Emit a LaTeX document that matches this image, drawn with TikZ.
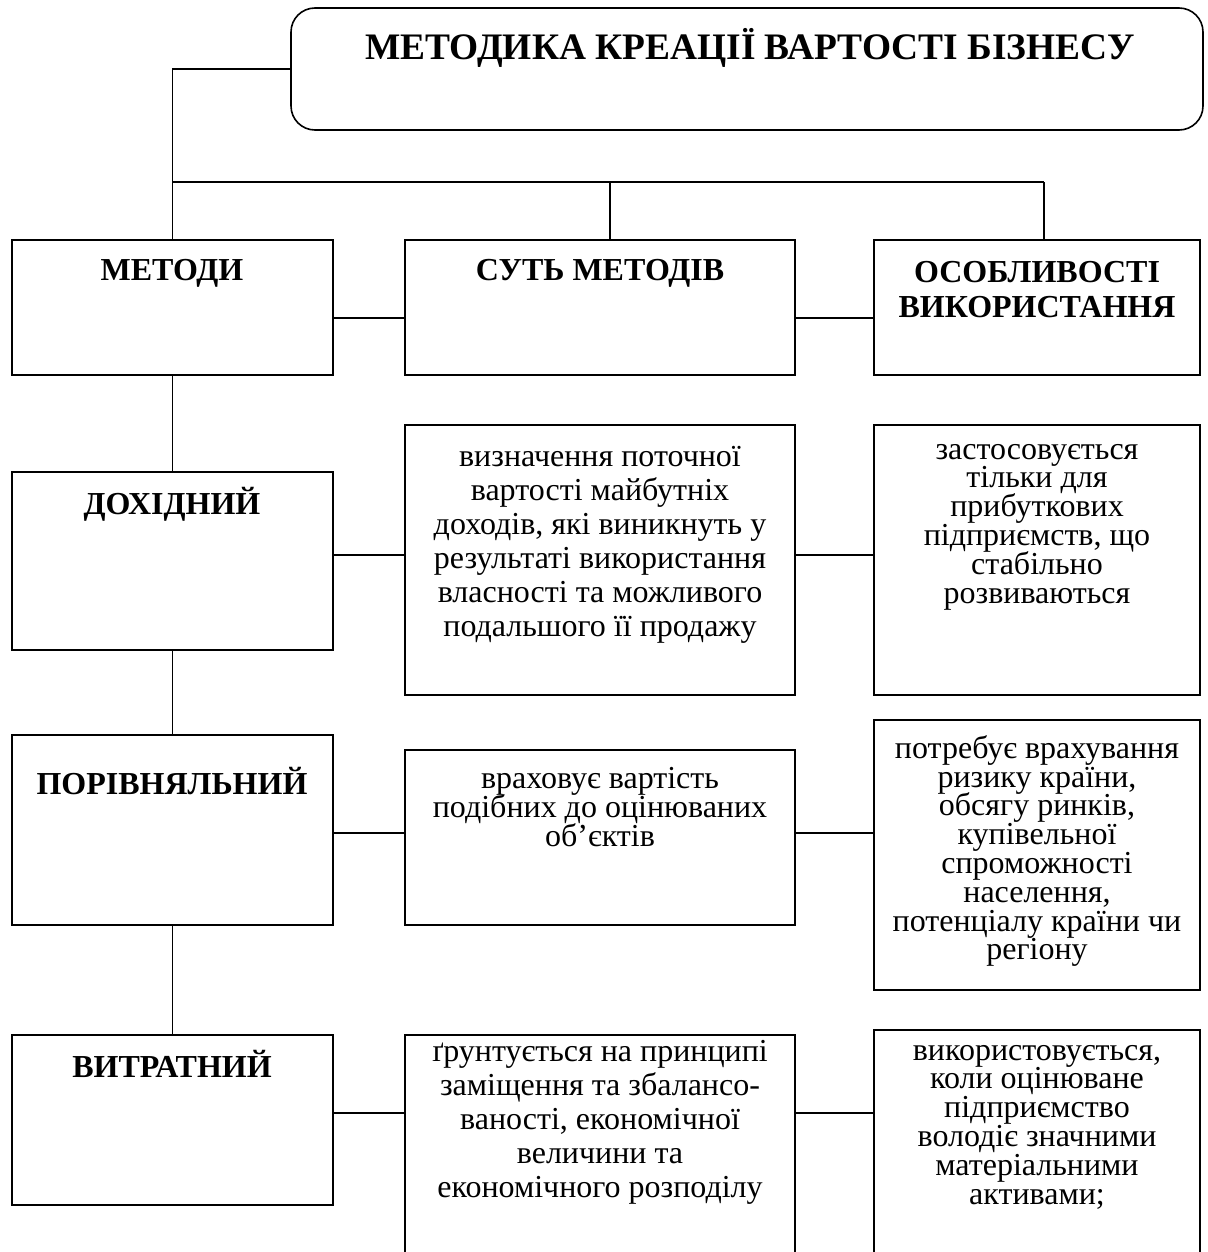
\documentclass[tikz,border=0pt]{standalone}
\usepackage{fontspec}
\setmainfont{Liberation Serif}
\usetikzlibrary{fit}
\newcommand{\ExactLines}{\lineskiplimit=-100pt\relax}
\tikzset{
  frame/.style={draw, line width=0.8pt, inner sep=0pt},
  head/.style={font=\fontsize{16}{17.5}\selectfont\bfseries, align=center, inner sep=0pt},
  body/.style={font={\fontsize{16}{17}\selectfont\ExactLines}, align=center, inner sep=0pt},
  tight/.style={font={\fontsize{16}{14.4}\selectfont\ExactLines}, align=center, inner sep=0pt},
}
\newcommand{\DrawFrame}[5]{\node[frame, fit={(#2,#3) (#4,#5)}] (#1) {};}

\begin{document}
\begin{tikzpicture}[x=0.5pt,y=-0.5pt,line width=0.8pt]
\useasboundingbox (0,0) rectangle (1208,1252);
\clip (0,0) rectangle (1208,1252);
% title
\node[frame, rounded corners=12pt, fit={(291,8) (1203,130)}] (title) {};
\node[head, font=\fontsize{18.7}{21}\selectfont\bfseries] (ttl) at (750,48) {МЕТОДИКА КРЕАЦІЇ ВАРТОСТІ БІЗНЕСУ};
% frames
\DrawFrame{m1}{12}{240}{333}{375}
\DrawFrame{s1}{405}{240}{795}{375}
\DrawFrame{o1}{874}{240}{1200}{375}
\DrawFrame{m2}{12}{472}{333}{650}
\DrawFrame{s2}{405}{425}{795}{695}
\DrawFrame{o2}{874}{425}{1200}{695}
\DrawFrame{m3}{12}{735}{333}{925}
\DrawFrame{s3}{405}{750}{795}{925}
\DrawFrame{o3}{874}{720}{1200}{990}
\DrawFrame{m4}{12}{1035}{333}{1205}
\DrawFrame{s4}{405}{1035}{795}{1280}
\DrawFrame{o4}{874}{1030}{1200}{1280}
% texts
\node[head] (h1) at (172,273) {МЕТОДИ};
\node[head] (h2) at (600,273) {СУТЬ МЕТОДІВ};
\node[head] (h3) at (1037,290) {ОСОБЛИВОСТІ\\ВИКОРИСТАННЯ};
\node[head] (h4) at (172,504) {ДОХІДНИЙ};
\node[head] (h5) at (172,781) {ПОРІВНЯЛЬНИЙ};
\node[head] (h6) at (172,1064) {ВИТРАТНИЙ};
\node[body] (t2) at (600,545) {визначення поточної\\вартості майбутніх\\доходів, які виникнуть у\\результаті використання\\власності та можливого\\подальшого її продажу};
\node[tight] (u2) at (1037,527) {застосовується\\тільки для\\прибуткових\\підприємств, що\\стабільно\\розвиваються};
\node[tight] (t3) at (600,807) {враховує вартість\\подібних до оцінюваних\\об’єктів};
\node[tight] (u3) at (1037,851) {потребує врахування\\ризику країни,\\обсягу ринків,\\купівельної\\спроможності\\населення,\\потенціалу країни чи\\регіону};
\node[body] (t4) at (600,1122) {ґрунтується на принципі\\заміщення та збалансо-\\ваності, економічної\\величини та\\економічного розподілу};
\node[tight] (u4) at (1037,1127) {використовується,\\коли оцінюване\\підприємство\\володіє значними\\матеріальними\\активами;};
% connectors
\coordinate (busL) at (172,182);
\coordinate (busM) at (610,182);
\coordinate (busR) at (1044,182);
\draw (title.west) -| (m1.north);
\draw (busL) -- (busR);
\draw (busM) -- (busM |- s1.north);
\draw (busR) -- (busR |- o1.north);
\draw (m1.south) -- (m2.north);
\draw (m2.south) -- (m3.north);
\draw (m3.south) -- (m4.north);
\coordinate (r1) at (0,318);
\coordinate (r2) at (0,555);
\coordinate (r3) at (0,833);
\coordinate (r4) at (0,1113);
\foreach \i in {1,...,4}{
  \draw (m\i.east |- r\i) -- (s\i.west |- r\i);
  \draw (s\i.east |- r\i) -- (o\i.west |- r\i);
}
\end{tikzpicture}
\end{document}
